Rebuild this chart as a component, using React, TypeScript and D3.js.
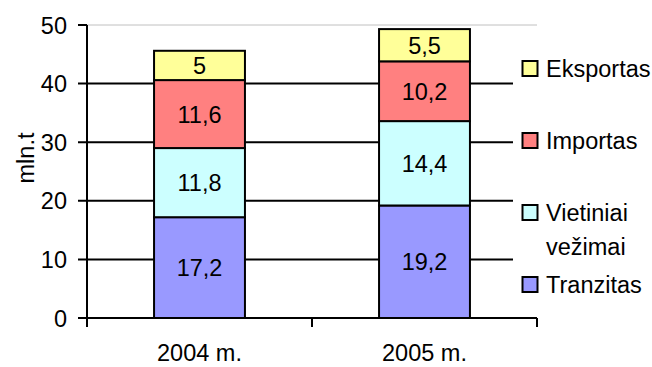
import React from "react";
import * as d3 from "d3";

const categories = ["2004 m.", "2005 m."];
const tranzitas = [17.2, 19.2];
const vietiniai = [11.8, 14.4];
const importas = [11.6, 10.2];
const eksportas = [5, 5.5];
const yTicks = [0, 10, 20, 30, 40, 50];

const seriesKeys = ["Tranzitas", "Vietiniai", "Importas", "Eksportas"];
const seriesLabels: Record<string, string[]> = {
  Tranzitas: ["Tranzitas"],
  Vietiniai: ["Vietiniai", "vežimai"],
  Importas: ["Importas"],
  Eksportas: ["Eksportas"],
};
const seriesColors: Record<string, string> = {
  Tranzitas: "#9999FF",
  Vietiniai: "#CCFFFF",
  Importas: "#FF8080",
  Eksportas: "#FFFF99",
};

const W = 652;
const H = 367;
const FONT = '"Liberation Sans", Arial, sans-serif';
const FS = 23.5;
const textStyle: React.CSSProperties = { fontFamily: FONT, fontSize: FS };

const left = 87;
const right = 537;
const top = 25;
const bottom = 318;

export default function App() {
  const rows = categories.map((c, i) => ({
    cat: c,
    Tranzitas: tranzitas[i],
    Vietiniai: vietiniai[i],
    Importas: importas[i],
    Eksportas: eksportas[i],
  }));
  const stacked = d3.stack<any>().keys(seriesKeys)(rows);

  const x = d3
    .scaleBand<string>()
    .domain(categories)
    .range([left, right])
    .paddingInner(0.596)
    .paddingOuter(0.298);
  const y = d3.scaleLinear().domain([0, 50]).range([bottom, top]);
  const step = x.step();
  const fmt = (v: number) => String(v).replace(".", ",");

  const legendX = 522.5;
  const legendTop = 61;
  const legendStep = 72;
  const legendOrder = [...seriesKeys].reverse();
  const dy = 8.5; // half digit height, to centre numbers on a y position

  return (
    <svg
      width={W}
      height={H}
      style={{ position: "absolute", left: 0, top: 0, background: "#fff", fontFamily: FONT }}
    >
      {/* plot frame top edge */}
      <line x1={left} x2={right} y1={y(50)} y2={y(50)} stroke="#c0c0c0" strokeWidth={1} />

      {/* gridlines with outer tick marks */}
      {yTicks
        .filter((t) => t > 0 && t < 50)
        .map((t) => (
          <line key={t} x1={left - 9} x2={right} y1={y(t)} y2={y(t)} stroke="#000" strokeWidth={2} />
        ))}
      <line x1={left - 9} x2={left} y1={y(50)} y2={y(50)} stroke="#000" strokeWidth={2} />

      {/* y tick labels */}
      {yTicks.map((t) => (
        <text key={t} x={67} y={y(t) + dy} textAnchor="end" style={textStyle} fill="#000">
          {t}
        </text>
      ))}

      {/* y axis title */}
      <text
        transform={`translate(34, 158) rotate(-90)`}
        textAnchor="middle"
        style={textStyle}
        fill="#000"
      >
        mln.t
      </text>

      {/* stacked bars */}
      {stacked.map((s) =>
        s.map((d, i) => {
          const cat = categories[i];
          const x0 = x(cat)!;
          const y0 = y(d[1]);
          const y1 = y(d[0]);
          const v = d[1] - d[0];
          return (
            <g key={s.key + cat}>
              <rect
                x={x0}
                y={y0}
                width={x.bandwidth()}
                height={y1 - y0}
                fill={seriesColors[s.key]}
                stroke="#000"
                strokeWidth={2}
              />
              <text
                x={x0 + x.bandwidth() / 2}
                y={(y0 + y1) / 2 + dy}
                textAnchor="middle"
                style={textStyle}
                fill="#000"
              >
                {fmt(Math.round(v * 10) / 10)}
              </text>
            </g>
          );
        })
      )}

      {/* legend background */}
      <rect x={513} y={40} width={W - 513} height={bottom - 1 - 40} fill="#fff" />

      {/* axes */}
      <line x1={left} x2={left} y1={top} y2={bottom + 9} stroke="#000" strokeWidth={2} />
      <line x1={left - 9} x2={right} y1={bottom} y2={bottom} stroke="#000" strokeWidth={2} />
      {categories.map((c, i) => (
        <line
          key={"tk" + c}
          x1={left + step * (i + 1)}
          x2={left + step * (i + 1)}
          y1={bottom}
          y2={bottom + 9}
          stroke="#000"
          strokeWidth={2}
        />
      ))}

      {/* category labels */}
      {categories.map((c) => (
        <text
          key={c}
          x={x(c)! + x.bandwidth() / 2}
          y={361}
          textAnchor="middle"
          style={textStyle}
          fill="#000"
        >
          {c}
        </text>
      ))}

      {/* legend */}
      {legendOrder.map((k, i) => {
        const ty = legendTop + i * legendStep;
        return (
          <g key={"lg" + k}>
            <rect
              x={legendX}
              y={ty}
              width={15}
              height={15}
              fill={seriesColors[k]}
              stroke="#000"
              strokeWidth={2}
            />
            {seriesLabels[k].map((line, j) => (
              <text key={line} x={546} y={ty + 16 + j * 34} style={textStyle} fill="#000">
                {line}
              </text>
            ))}
          </g>
        );
      })}
    </svg>
  );
}
